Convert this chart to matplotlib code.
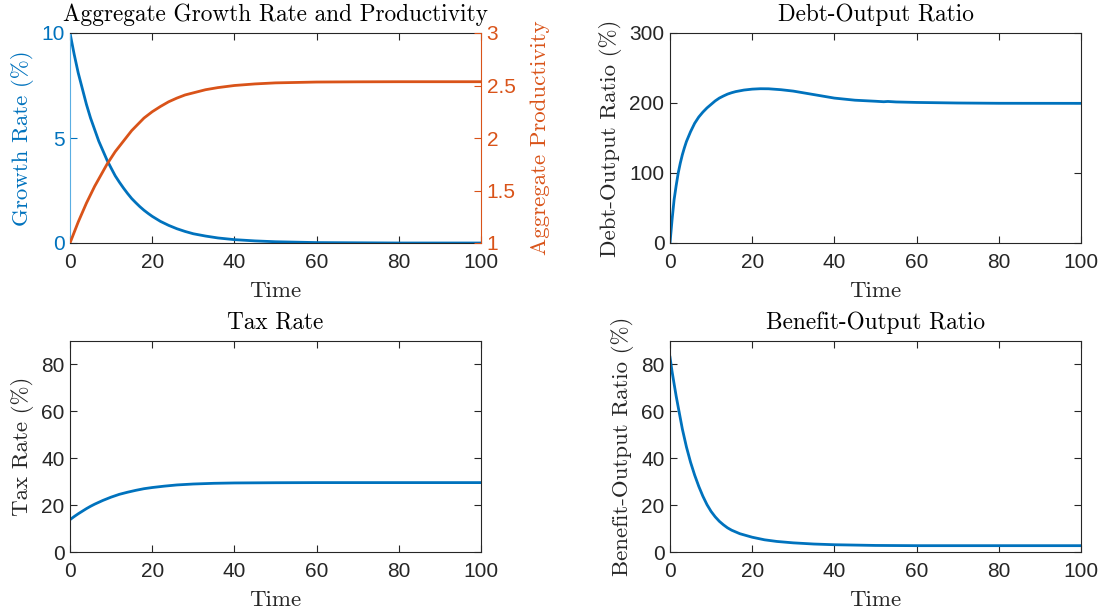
import matplotlib
matplotlib.use("Agg")
import matplotlib.pyplot as plt

# ============ DATA ============

t_growth = [0, 1, 2, 3, 4, 5, 6, 7, 8, 9, 10, 11, 12, 13, 14, 15, 16, 17, 18, 19, 20,
            22, 24, 26, 28, 30, 33, 36, 40, 45, 50, 60, 70, 80, 100]
growth_rate = [10.0, 9.0, 8.1, 7.35, 6.6, 5.95, 5.4, 4.85, 4.4, 3.95, 3.57, 3.2, 2.9,
               2.62, 2.36, 2.12, 1.92, 1.73, 1.56, 1.41, 1.27, 1.03, 0.84, 0.68, 0.55,
               0.44, 0.33, 0.24, 0.16, 0.1, 0.06, 0.02, 0.01, 0.0, 0.0]
productivity = [1.0, 1.10, 1.20, 1.29, 1.38, 1.46, 1.54, 1.61, 1.68, 1.75, 1.81, 1.87,
                1.92, 1.97, 2.02, 2.07, 2.11, 2.15, 2.19, 2.22, 2.25, 2.30, 2.345, 2.38,
                2.41, 2.43, 2.46, 2.48, 2.50, 2.515, 2.525, 2.533, 2.535, 2.536, 2.536]

t_debt = [0, 0.5, 1, 1.5, 2, 2.5, 3, 3.5, 4, 5, 6, 7, 8, 9, 10, 11, 12, 13, 14, 15, 16,
          18, 20, 22, 24, 27, 30, 34, 37, 40, 45, 50, 52, 53, 55, 60, 70, 80, 100]
debt_ratio = [0, 33, 62, 82, 100, 114, 126, 136, 145, 159, 171, 180, 187, 193, 198, 203,
              207, 210, 212.7, 214.7, 216.3, 218.5, 219.8, 220.4, 220.3, 219, 217, 213,
              210, 207, 204, 202.5, 201.8, 202.2, 201.5, 200.8, 200, 199.6, 199.5]

t_tax = [0, 1, 2, 3, 4, 5, 6, 7, 8, 9, 10, 12, 14, 16, 18, 20, 23, 26, 30, 35, 40, 50,
         60, 100]
tax_rate = [13.8, 15.1, 16.3, 17.4, 18.5, 19.5, 20.4, 21.2, 22.0, 22.7, 23.4, 24.6,
            25.5, 26.3, 27.0, 27.5, 28.1, 28.6, 29.0, 29.3, 29.45, 29.55, 29.6, 29.6]

t_ben = [0, 0.5, 1, 1.5, 2, 3, 4, 5, 6, 7, 8, 9, 10, 11, 12, 13, 14, 15, 17, 20, 23, 26,
         30, 35, 40, 50, 60, 100]
benefit_ratio = [83.1, 77.0, 71.7, 66.5, 61.8, 52.5, 44.8, 38.3, 32.8, 28.0, 23.8, 20.2,
                 17.3, 15.0, 13.1, 11.6, 10.3, 9.3, 7.8, 6.3, 5.2, 4.5, 3.9, 3.4, 3.1,
                 2.8, 2.7, 2.7]

x_ticks = [0, 20, 40, 60, 80, 100]

# ============ STYLE ============
BLUE = "#0072BD"
ORANGE = "#D95319"
DARK = "#262626"
SERIF = "cmr10"
LW = 2.0
TICK_SIZE = 15
LABEL_SIZE = 16.5
TITLE_SIZE = 16.8

plt.rcParams["font.family"] = "Liberation Sans"
plt.rcParams["axes.unicode_minus"] = False

fig = plt.figure(figsize=(11.02, 6.15), dpi=100)

W = 411 / 1102
pos = {
    "tl": [70 / 1102, (615 - 243) / 615, W, 210 / 615],
    "tr": [670 / 1102, (615 - 243) / 615, W, 210 / 615],
    "bl": [70 / 1102, (615 - 552) / 615, W, 211 / 615],
    "br": [670 / 1102, (615 - 552) / 615, W, 211 / 615],
}


def style_axes(ax, title, ylabel):
    ax.set_xlim(0, 100)
    ax.set_xticks(x_ticks)
    ax.tick_params(direction="in", length=5, width=0.8, labelsize=TICK_SIZE,
                   colors=DARK, top=True, right=True)
    ax.tick_params(axis="x", pad=7)
    ax.tick_params(axis="y", pad=4)
    for s in ax.spines.values():
        s.set_color(DARK)
        s.set_linewidth(0.8)
    ax.set_title(title, fontfamily=SERIF, fontsize=TITLE_SIZE, color="black", pad=9)
    ax.set_xlabel("Time", fontfamily=SERIF, fontsize=LABEL_SIZE, color=DARK, labelpad=7)
    ax.set_ylabel(ylabel, fontfamily=SERIF, fontsize=LABEL_SIZE, color=DARK, labelpad=5)


# ---- Aggregate growth rate and productivity ----
ax1 = fig.add_axes(pos["tl"])
ax1.plot(t_growth, growth_rate, color=BLUE, lw=LW)
style_axes(ax1, "Aggregate Growth Rate and Productivity", "Growth Rate (%)")
ax1.set_ylim(0, 10)
ax1.set_yticks([0, 5, 10])
ax1.tick_params(axis="y", colors=BLUE, right=False)
ax1.yaxis.label.set_color(BLUE)
ax1.spines["left"].set_color("#5AAEE3")
ax1.spines["right"].set_visible(False)

ax1r = ax1.twinx()
ax1r.plot(t_growth, productivity, color=ORANGE, lw=LW)
ax1r.set_ylim(1, 3)
ax1r.set_yticks([1, 1.5, 2, 2.5, 3])
ax1r.set_yticklabels(["1", "1.5", "2", "2.5", "3"])
ax1r.tick_params(axis="y", direction="in", length=5, width=0.8,
                 labelsize=TICK_SIZE, colors=ORANGE, pad=4)
ax1r.set_ylabel("Aggregate Productivity", fontfamily=SERIF, fontsize=LABEL_SIZE,
                color=ORANGE, labelpad=11)
for name, s in ax1r.spines.items():
    s.set_visible(name == "right")
ax1r.spines["right"].set_color(ORANGE)
ax1r.spines["right"].set_linewidth(0.8)

# ---- Debt-output ratio ----
ax2 = fig.add_axes(pos["tr"])
ax2.plot(t_debt, debt_ratio, color=BLUE, lw=LW)
style_axes(ax2, "Debt-Output Ratio", "Debt-Output Ratio (%)")
ax2.set_ylim(0, 300)
ax2.set_yticks([0, 100, 200, 300])

# ---- Tax rate ----
ax3 = fig.add_axes(pos["bl"])
ax3.plot(t_tax, tax_rate, color=BLUE, lw=LW)
style_axes(ax3, "Tax Rate", "Tax Rate (%)")
ax3.set_ylim(0, 90)
ax3.set_yticks([0, 20, 40, 60, 80])

# ---- Benefit-output ratio ----
ax4 = fig.add_axes(pos["br"])
ax4.plot(t_ben, benefit_ratio, color=BLUE, lw=LW)
style_axes(ax4, "Benefit-Output Ratio", "Benefit-Output Ratio (%)")
ax4.set_ylim(0, 90)
ax4.set_yticks([0, 20, 40, 60, 80])

fig.savefig("out.png", dpi=100)
